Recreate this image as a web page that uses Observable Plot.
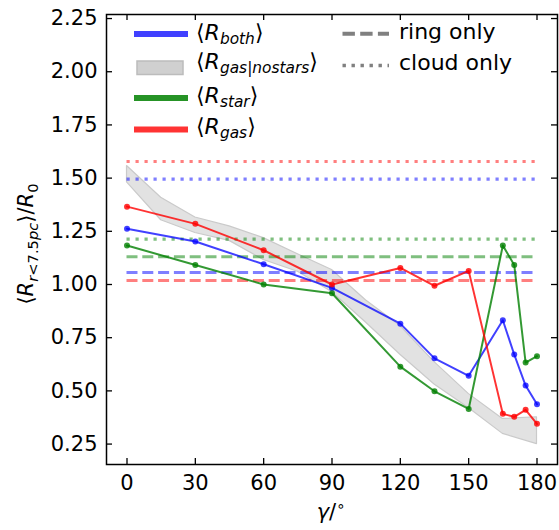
<!DOCTYPE html>
<html>
<head>
<meta charset="utf-8">
<script src="https://cdn.jsdelivr.net/npm/d3@7"></script>
<script src="https://cdn.jsdelivr.net/npm/@observablehq/plot@0.6"></script>
<style>
  html, body { margin: 0; padding: 0; background: #fff; }
  #chart { position: relative; width: 559px; height: 530px; }
  svg { font-family: "DejaVu Sans", sans-serif; }
</style>
</head>
<body>
<div id="chart"></div>
<script>
// ---- data ----
const gamma = [0, 30, 60, 90, 120, 135, 150, 165, 170, 175, 180];
const rBoth = [1.262, 1.202, 1.095, 0.984, 0.816, 0.653, 0.571, 0.832, 0.671, 0.525, 0.437];
const rStar = [1.183, 1.092, 1.000, 0.959, 0.614, 0.498, 0.415, 1.183, 1.092, 0.633, 0.663];
const rGas  = [1.366, 1.285, 1.161, 1.000, 1.078, 0.994, 1.064, 0.392, 0.378, 0.411, 0.345];

const bandGamma = [0, 15, 30, 45, 60, 75, 90, 105, 120, 135, 150, 165, 180];
const bandLow   = [1.480, 1.302, 1.242, 1.205, 1.115, 1.060, 0.965, 0.820, 0.670, 0.530, 0.420, 0.298, 0.250];
const bandHigh  = [1.557, 1.408, 1.315, 1.273, 1.218, 1.142, 1.068, 0.925, 0.805, 0.635, 0.486, 0.368, 0.376];

const seriesNames = ["both", "star", "gas"];
const seriesColors = ["blue", "green", "red"];
const ringOnly  = [1.056, 1.130, 1.019];
const cloudOnly = [1.495, 1.213, 1.578];

const xTicks = [0, 30, 60, 90, 120, 150, 180];
const yTicks = [0.25, 0.50, 0.75, 1.00, 1.25, 1.50, 1.75, 2.00, 2.25];

// ---- tables built from the arrays ----
const xDomain = [-9, 189];
const yDomain = [0.154, 2.269];
const colorOf = Object.fromEntries(seriesNames.map((s, i) => [s, seriesColors[i]]));
const lineRows = [];
[["both", rBoth], ["star", rStar], ["gas", rGas]].forEach(([s, arr]) =>
  arr.forEach((v, i) => lineRows.push({series: s, g: gamma[i], v})));
const bandRows = bandGamma.map((g, i) => ({g, lo: bandLow[i], hi: bandHigh[i]}));
const ringRows = seriesNames.map((s, i) => ({series: s, v: ringOnly[i]}));
const cloudRows = seriesNames.map((s, i) => ({series: s, v: cloudOnly[i]}));

const tickLenX = 6 / (451 / (xDomain[1] - xDomain[0]));
const tickLenY = 6 / (450 / (yDomain[1] - yDomain[0]));

const opac = {both: 0.75, star: 0.8, gas: 0.8};

const marks = [
  Plot.areaY(bandRows, {x: "g", y1: "lo", y2: "hi", fill: "#e2e2e2", stroke: "#cacaca", strokeWidth: 1.2}),
  Plot.ruleY(ringRows, {y: "v", x1: 0, x2: 180, stroke: d => colorOf[d.series], strokeOpacity: 0.5, strokeWidth: 3, strokeDasharray: "11,4.8"}),
  Plot.ruleY(cloudRows, {y: "v", x1: 0, x2: 180, stroke: d => colorOf[d.series], strokeOpacity: 0.5, strokeWidth: 3.2, strokeDasharray: "3.2,5.8"}),
];
for (const s of ["both", "star", "gas"]) {
  const rows = lineRows.filter(d => d.series === s);
  marks.push(Plot.line(rows, {x: "g", y: "v", stroke: colorOf[s], strokeOpacity: opac[s], strokeWidth: 2}));
  marks.push(Plot.dot(rows, {x: "g", y: "v", r: 3, fill: colorOf[s], fillOpacity: opac[s], stroke: "none"}));
}
marks.push(
  // inward tick marks on all four sides
  Plot.ruleX(xTicks, {x: d => d, y1: yDomain[0], y2: yDomain[0] + tickLenY, stroke: "black", strokeWidth: 1.3}),
  Plot.ruleX(xTicks, {x: d => d, y1: yDomain[1] - tickLenY, y2: yDomain[1], stroke: "black", strokeWidth: 1.3}),
  Plot.ruleY(yTicks, {y: d => d, x1: xDomain[0], x2: xDomain[0] + tickLenX, stroke: "black", strokeWidth: 1.3}),
  Plot.ruleY(yTicks, {y: d => d, x1: xDomain[1] - tickLenX, x2: xDomain[1], stroke: "black", strokeWidth: 1.3}),
  Plot.axisX(xTicks, {tickSize: 0, tickPadding: 11, label: null, fontSize: 21, tickFormat: d => String(d)}),
  Plot.axisY(yTicks, {tickSize: 0, tickPadding: 9, label: null, fontSize: 21, tickFormat: d => d.toFixed(2)}),
  Plot.frame({stroke: "black", strokeWidth: 1.5})
);

const svg = Plot.plot({
  width: 559, height: 530,
  marginLeft: 106, marginRight: 2, marginTop: 14, marginBottom: 66,
  style: {fontFamily: "DejaVu Sans, sans-serif", fontSize: "21px", color: "black", background: "white"},
  x: {domain: xDomain},
  y: {domain: yDomain},
  marks
});
document.getElementById("chart").appendChild(svg);

// ---- rich text helpers (subscripts / italics) ----
const root = d3.select(svg).append("g").attr("class", "annot");
function rich(parent, x, y, segs, opts = {}) {
  const fs = opts.size || 21;
  const t = parent.append("text")
    .attr("x", x).attr("y", y)
    .attr("font-size", fs)
    .attr("fill", "black")
    .attr("text-anchor", opts.anchor || "start");
  if (opts.transform) t.attr("transform", opts.transform);
  let shift = 0;
  for (const s of segs) {
    const target = s.sub ? 0.22 * fs : s.sup ? -0.4 * fs : 0;
    const ts = t.append("tspan").text(s.t)
      .attr("font-size", (s.sub || s.sup) ? 0.7 * fs : fs)
      .attr("font-style", s.it ? "italic" : "normal");
    if (target !== shift) { ts.attr("dy", target - shift); shift = target; }
  }
  return t;
}

// y-axis label
rich(root, 0, 0, [
  {t: "⟨"}, {t: "R", it: true}, {t: "r", it: true, sub: true}, {t: "<7.5", sub: true}, {t: "pc", it: true, sub: true},
  {t: "⟩/"}, {t: "R", it: true}, {t: "0", sub: true}
], {anchor: "middle", transform: "translate(33,244) rotate(-90)", size: 21});

// x-axis label
rich(root, 331, 519, [{t: "γ", it: true}, {t: "/"}, {t: "∘", sup: true}], {anchor: "middle", size: 21});

// ---- legend ----
const lg = root.append("g");
function handleLine(y, color, op, dash, w) {
  lg.append("line").attr("x1", 134).attr("x2", 188).attr("y1", y).attr("y2", y)
    .attr("stroke", color).attr("stroke-opacity", op).attr("stroke-width", w || 6)
    .attr("stroke-dasharray", dash || null);
}
handleLine(34, "blue", 0.75);
lg.append("rect").attr("x", 137).attr("y", 61).attr("width", 46).attr("height", 13.5)
  .attr("fill", "#d0d0d0").attr("stroke", "#bcbcbc").attr("stroke-width", 1.5);
handleLine(98, "green", 0.85);
handleLine(129.5, "red", 0.8);

rich(lg, 196, 39.5, [{t: "⟨"}, {t: "R", it: true}, {t: "both", it: true, sub: true}, {t: "⟩"}], {size: 22});
rich(lg, 196, 68.5, [{t: "⟨"}, {t: "R", it: true}, {t: "gas", it: true, sub: true}, {t: "|", sub: true}, {t: "nostars", it: true, sub: true}, {t: "⟩"}], {size: 22});
rich(lg, 196, 102.5, [{t: "⟨"}, {t: "R", it: true}, {t: "star", it: true, sub: true}, {t: "⟩"}], {size: 22});
rich(lg, 196, 133.5, [{t: "⟨"}, {t: "R", it: true}, {t: "gas", it: true, sub: true}, {t: "⟩"}], {size: 22});

lg.append("line").attr("x1", 342.5).attr("x2", 389).attr("y1", 33.7).attr("y2", 33.7)
  .attr("stroke", "#808080").attr("stroke-width", 4).attr("stroke-dasharray", "12.4,5.3");
lg.append("line").attr("x1", 342.5).attr("x2", 389).attr("y1", 65.5).attr("y2", 65.5)
  .attr("stroke", "#808080").attr("stroke-width", 3.6).attr("stroke-dasharray", "3.4,5.6");
rich(lg, 399, 38.5, [{t: "ring only"}], {size: 22});
rich(lg, 399, 70, [{t: "cloud only"}], {size: 22});
</script>
</body>
</html>
